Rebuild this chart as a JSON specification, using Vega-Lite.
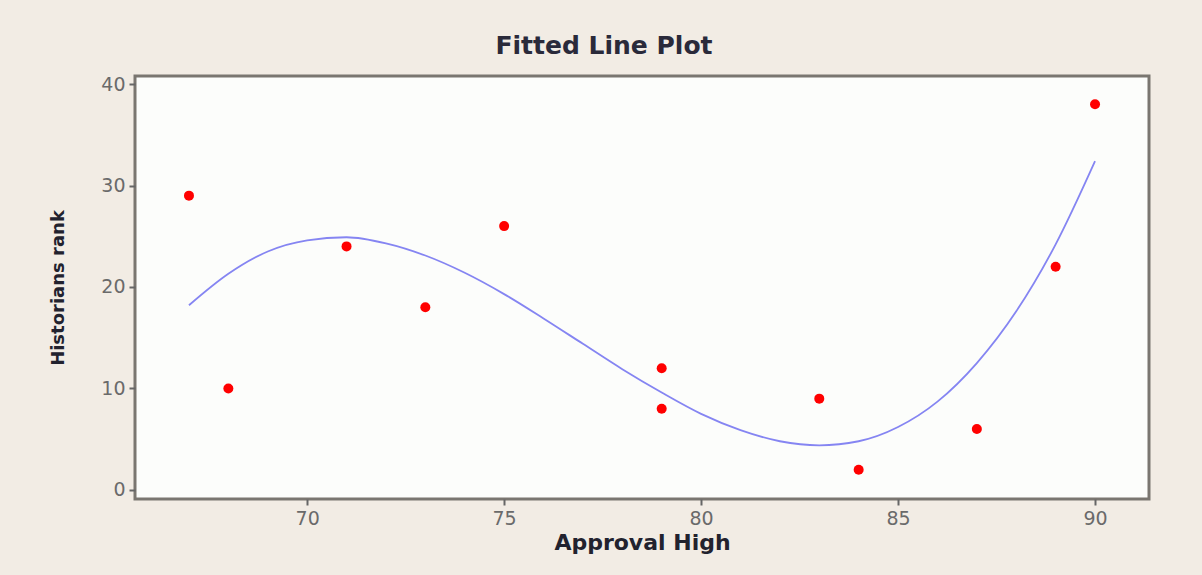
{
  "$schema": "https://vega.github.io/schema/vega-lite/v6.json",
  "width": 1014,
  "height": 423,
  "autosize": {"type": "none"},
  "padding": {"left": 135, "top": 76, "right": 53, "bottom": 76},
  "background": "#f2ece4",
  "title": {
    "text": "Fitted Line Plot",
    "font": "DejaVu Sans",
    "fontSize": 25,
    "fontWeight": "bold",
    "color": "#2a2a3a",
    "anchor": "middle",
    "dx": -38,
    "offset": 16
  },
  "datasets": {
    "points": [
      {"approval": 67, "rank": 29},
      {"approval": 68, "rank": 10},
      {"approval": 71, "rank": 24},
      {"approval": 73, "rank": 18},
      {"approval": 75, "rank": 26},
      {"approval": 79, "rank": 12},
      {"approval": 79, "rank": 8},
      {"approval": 83, "rank": 9},
      {"approval": 84, "rank": 2},
      {"approval": 87, "rank": 6},
      {"approval": 89, "rank": 22},
      {"approval": 90, "rank": 38}
    ],
    "fit": [
      {"approval": 67, "rank": 18.2},
      {"approval": 68, "rank": 21.3},
      {"approval": 69, "rank": 23.5},
      {"approval": 70, "rank": 24.6},
      {"approval": 71, "rank": 24.9},
      {"approval": 72, "rank": 24.3},
      {"approval": 73, "rank": 23.1},
      {"approval": 74, "rank": 21.4},
      {"approval": 75, "rank": 19.3},
      {"approval": 76, "rank": 16.9},
      {"approval": 77, "rank": 14.4},
      {"approval": 78, "rank": 11.9},
      {"approval": 79, "rank": 9.6},
      {"approval": 80, "rank": 7.5},
      {"approval": 81, "rank": 5.9},
      {"approval": 82, "rank": 4.8},
      {"approval": 83, "rank": 4.4},
      {"approval": 84, "rank": 4.8},
      {"approval": 85, "rank": 6.2},
      {"approval": 86, "rank": 8.7},
      {"approval": 87, "rank": 12.5},
      {"approval": 88, "rank": 17.6},
      {"approval": 89, "rank": 24.2},
      {"approval": 90, "rank": 32.4}
    ]
  },
  "encoding": {
    "x": {
      "field": "approval",
      "type": "quantitative",
      "title": "Approval High",
      "scale": {"domain": [65.63, 91.37], "nice": false, "zero": false},
      "axis": {"values": [70, 75, 80, 85, 90]}
    },
    "y": {
      "field": "rank",
      "type": "quantitative",
      "title": "Historians rank",
      "scale": {"domain": [-0.89, 40.79], "nice": false, "zero": false},
      "axis": {"values": [0, 10, 20, 30, 40]}
    }
  },
  "layer": [
    {
      "data": {"name": "fit"},
      "mark": {"type": "line", "color": "#8585f2", "strokeWidth": 1.8, "interpolate": "monotone"}
    },
    {
      "data": {"name": "points"},
      "mark": {"type": "circle", "color": "#ff0000", "opacity": 1, "size": 100}
    }
  ],
  "config": {
    "view": {"fill": "#fcfdfb", "stroke": "#7a7670", "strokeWidth": 3},
    "axis": {
      "grid": false,
      "domain": false,
      "ticks": true,
      "tickSize": 6,
      "tickWidth": 2,
      "tickColor": "#666666",
      "labelFont": "DejaVu Sans",
      "labelFontSize": 19,
      "labelColor": "#6a6a6a",
      "labelPadding": 4,
      "titleFont": "DejaVu Sans",
      "titleFontWeight": "bold",
      "titleColor": "#22222e"
    },
    "axisX": {"titlePadding": 4, "titleFontSize": 22},
    "axisY": {"titlePadding": 33, "titleFontSize": 18}
  }
}
